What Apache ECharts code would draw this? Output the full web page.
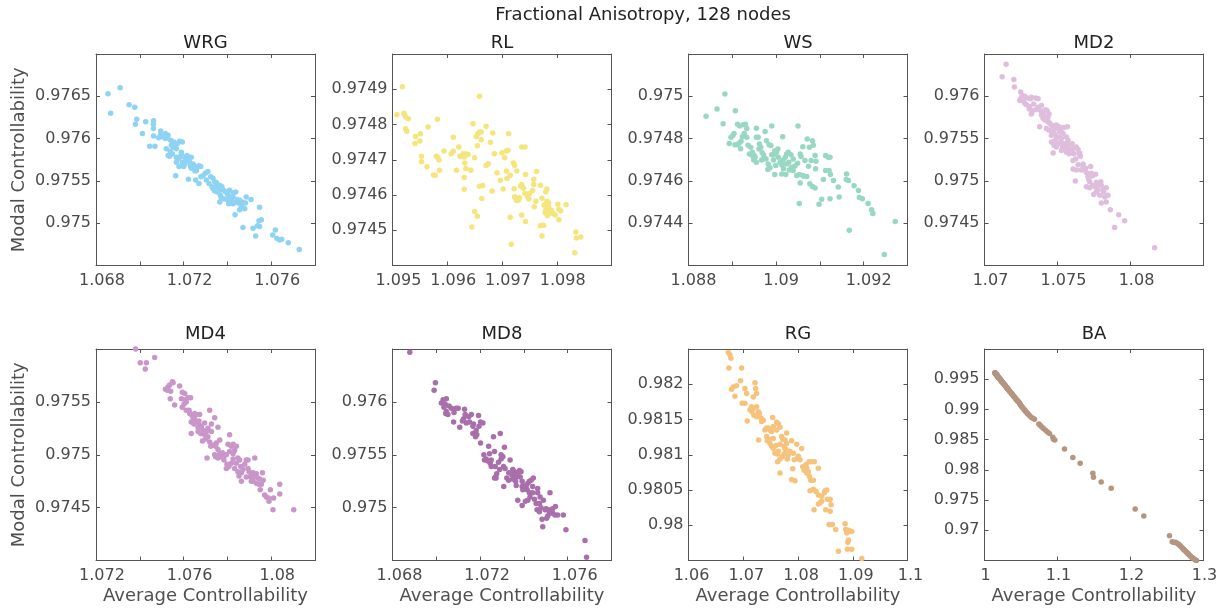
<!DOCTYPE html>
<html>
<head>
<meta charset="utf-8">
<script src="https://cdn.jsdelivr.net/npm/echarts@6/dist/echarts.min.js"></script>
<style>
  html, body { margin: 0; padding: 0; background: #ffffff; }
  #chart { width: 1230px; height: 613px; }
</style>
</head>
<body>
<div id="chart"></div>
<script>
// ---- Average (x) and modal (y) controllability per node, one pair of arrays per network ----
const wrgX = [1.06855,1.06867,1.06910,1.06951,1.06977,1.06986,1.06980,1.07027,1.07012,1.07063,
1.07062,1.07062,1.07063,1.07045,1.07069,1.07095,1.07095,1.07086,1.07106,1.07117,
1.07117,1.07129,1.07141,1.07144,1.07156,1.07171,1.07182,1.07194,1.07162,1.07139,
1.07129,1.07136,1.07149,1.07167,1.07190,1.07174,1.07167,1.07194,1.07205,1.07216,
1.07222,1.07231,1.07235,1.07248,1.07258,1.07270,1.07278,1.07251,1.07164,1.07179,
1.07222,1.07255,1.07270,1.07279,1.07311,1.07324,1.07334,1.07342,1.07316,1.07330,
1.07349,1.07365,1.07375,1.07383,1.07354,1.07368,1.07392,1.07410,1.07426,1.07438,
1.07401,1.07383,1.07398,1.07418,1.07441,1.07365,1.07372,1.07406,1.07426,1.07445,
1.07451,1.07467,1.07482,1.07508,1.07464,1.07456,1.07435,1.07479,1.07547,1.07471,
1.07517,1.07529,1.07537,1.07544,1.07555,1.07547,1.07607,1.07619,1.07626,1.07639,
1.07648,1.07678,1.07728,1.07334,1.07342,1.07357,1.07304,1.07289,1.07258,1.07243,
1.07212,1.07205,1.07200,1.07190,1.07167,1.07152,1.07121,1.07182,1.07235,1.07426,
1.07349,1.07486,1.07410,1.07456,1.07299,1.07228,1.07121,1.07365];
const wrgY = [0.97653,0.97630,0.97660,0.97640,0.97637,0.97623,0.97617,0.97620,0.97606,0.97621,
0.97617,0.97612,0.97603,0.97591,0.97591,0.97609,0.97604,0.97601,0.97602,0.97600,
0.97606,0.97604,0.97598,0.97592,0.97596,0.97594,0.97597,0.97596,0.97589,0.97585,
0.97580,0.97579,0.97582,0.97578,0.97581,0.97576,0.97572,0.97572,0.97578,0.97580,
0.97574,0.97568,0.97565,0.97568,0.97562,0.97568,0.97567,0.97562,0.97556,0.97567,
0.97552,0.97551,0.97547,0.97555,0.97561,0.97555,0.97553,0.97549,0.97547,0.97543,
0.97548,0.97545,0.97543,0.97539,0.97537,0.97533,0.97537,0.97539,0.97536,0.97537,
0.97534,0.97529,0.97528,0.97527,0.97525,0.97525,0.97530,0.97523,0.97523,0.97528,
0.97524,0.97525,0.97524,0.97528,0.97520,0.97516,0.97510,0.97517,0.97519,0.97495,
0.97494,0.97485,0.97497,0.97503,0.97504,0.97496,0.97486,0.97492,0.97482,0.97480,
0.97481,0.97477,0.97469,0.97541,0.97538,0.97541,0.97551,0.97556,0.97565,0.97570,
0.97575,0.97570,0.97567,0.97584,0.97588,0.97590,0.97601,0.97578,0.97578,0.97531,
0.97543,0.97531,0.97531,0.97527,0.97559,0.97572,0.97588,0.97539];

const rlX = [1.09508,1.09518,1.09521,1.09522,1.09524,1.09529,1.09524,1.09526,1.09542,1.09541,
1.09551,1.09550,1.09553,1.09553,1.09563,1.09565,1.09582,1.09580,1.09583,1.09585,
1.09575,1.09578,1.09586,1.09594,1.09611,1.09611,1.09621,1.09617,1.09623,1.09629,
1.09631,1.09638,1.09635,1.09632,1.09634,1.09631,1.09643,1.09631,1.09650,1.09647,
1.09653,1.09655,1.09659,1.09656,1.09659,1.09662,1.09662,1.09671,1.09671,1.09675,
1.09679,1.09686,1.09659,1.09665,1.09682,1.09663,1.09650,1.09655,1.09645,1.09691,
1.09697,1.09700,1.09705,1.09702,1.09708,1.09712,1.09711,1.09708,1.09709,1.09715,
1.09721,1.09723,1.09727,1.09722,1.09723,1.09730,1.09732,1.09734,1.09736,1.09739,
1.09736,1.09742,1.09743,1.09742,1.09747,1.09749,1.09758,1.09756,1.09763,1.09762,
1.09770,1.09758,1.09780,1.09782,1.09773,1.09777,1.09782,1.09785,1.09785,1.09779,
1.09783,1.09776,1.09770,1.09773,1.09743,1.09736,1.09715,1.09717,1.09780,1.09785,
1.09787,1.09793,1.09797,1.09802,1.09804,1.09807,1.09804,1.09817,1.09835,1.09836,
1.09844,1.09833,1.09726,1.09750,1.09759,1.09790,1.09607,1.09683];
const rlY = [0.974828,0.974907,0.974832,0.974828,0.974821,0.974816,0.974788,0.974781,0.974766,0.974746,
0.974774,0.974753,0.974710,0.974694,0.974680,0.974793,0.974815,0.974710,0.974706,0.974699,
0.974657,0.974656,0.974670,0.974725,0.974764,0.974724,0.974736,0.974670,0.974710,0.974717,
0.974708,0.974715,0.974716,0.974691,0.974675,0.974650,0.974670,0.974616,0.974706,0.974802,
0.974765,0.974740,0.974880,0.974774,0.974779,0.974779,0.974757,0.974795,0.974684,0.974689,
0.974750,0.974717,0.974625,0.974627,0.974611,0.974590,0.974553,0.974540,0.974509,0.974663,
0.974642,0.974720,0.974706,0.974617,0.974725,0.974774,0.974727,0.974668,0.974647,0.974656,
0.974691,0.974684,0.974668,0.974618,0.974595,0.974585,0.974592,0.974625,0.974630,0.974619,
0.974736,0.974736,0.974658,0.974604,0.974595,0.974589,0.974630,0.974613,0.974667,0.974582,
0.974628,0.974645,0.974609,0.974617,0.974591,0.974571,0.974582,0.974577,0.974567,0.974550,
0.974542,0.974514,0.974513,0.974484,0.974525,0.974543,0.974537,0.974460,0.974557,0.974562,
0.974548,0.974548,0.974543,0.974574,0.974559,0.974555,0.974530,0.974572,0.974495,0.974478,
0.974481,0.974436,0.974585,0.974604,0.974567,0.974557,0.974717,0.974776];

const wsX = [1.08840,1.08865,1.08883,1.08879,1.08907,1.08893,1.08897,1.08901,1.08904,1.08906,
1.08912,1.08912,1.08917,1.08925,1.08930,1.08933,1.08927,1.08923,1.08920,1.08916,
1.08919,1.08936,1.08939,1.08946,1.08946,1.08952,1.08955,1.08955,1.08959,1.08962,
1.08965,1.08961,1.08968,1.08971,1.08973,1.08967,1.08955,1.08949,1.08975,1.08978,
1.08984,1.08988,1.08990,1.08977,1.08982,1.08986,1.08981,1.08994,1.08994,1.08997,
1.09001,1.09004,1.08999,1.08997,1.09009,1.09013,1.09016,1.09015,1.09021,1.09024,
1.09028,1.09029,1.09034,1.09030,1.09022,1.09017,1.09035,1.09039,1.09043,1.09050,
1.09049,1.09047,1.09053,1.09055,1.09061,1.09064,1.09061,1.09057,1.09053,1.09071,
1.09074,1.09070,1.09077,1.09083,1.09089,1.09076,1.09083,1.09085,1.09089,1.09091,
1.09080,1.09090,1.09098,1.09104,1.09108,1.09113,1.09119,1.09123,1.09113,1.09121,
1.09124,1.09131,1.09123,1.09142,1.09144,1.09161,1.09160,1.09165,1.09178,1.09188,
1.09190,1.09197,1.09210,1.09218,1.09221,1.09167,1.09247,1.09272,1.08950,1.08990,
1.09005,1.09039,1.09066,1.09055,1.09024,1.08942,1.08933,1.09013];
const wsY = [0.974906,0.974940,0.975011,0.974870,0.974932,0.974777,0.974806,0.974813,0.974824,0.974771,
0.974771,0.974868,0.974860,0.974865,0.974868,0.974848,0.974824,0.974809,0.974787,0.974779,
0.974752,0.974768,0.974727,0.974718,0.974735,0.974712,0.974849,0.974806,0.974806,0.974774,
0.974759,0.974751,0.974734,0.974724,0.974709,0.974699,0.974688,0.974699,0.974834,0.974790,
0.974771,0.974767,0.974860,0.974704,0.974680,0.974662,0.974654,0.974724,0.974699,0.974743,
0.974735,0.974751,0.974673,0.974630,0.974688,0.974676,0.974699,0.974809,0.974712,0.974727,
0.974735,0.974688,0.974724,0.974652,0.974630,0.974657,0.974665,0.974649,0.974671,0.974860,
0.974684,0.974626,0.974630,0.974590,0.974626,0.974622,0.974762,0.974715,0.974493,0.974798,
0.974669,0.974621,0.974587,0.974574,0.974566,0.974759,0.974790,0.974768,0.974720,0.974693,
0.974696,0.974657,0.974490,0.974513,0.974607,0.974720,0.974712,0.974712,0.974649,0.974649,
0.974630,0.974602,0.974516,0.974571,0.974524,0.974633,0.974607,0.974602,0.974577,0.974555,
0.974521,0.974516,0.974493,0.974464,0.974446,0.974367,0.974252,0.974408,0.974720,0.974724,
0.974712,0.974704,0.974696,0.974727,0.974680,0.974759,0.974806,0.974633];

const md2X = [1.07121,1.07148,1.07201,1.07205,1.07248,1.07258,1.07242,1.07276,1.07292,1.07321,
1.07351,1.07367,1.07315,1.07287,1.07310,1.07306,1.07328,1.07321,1.07351,1.07367,
1.07385,1.07401,1.07419,1.07429,1.07390,1.07401,1.07378,1.07413,1.07435,1.07447,
1.07458,1.07470,1.07424,1.07442,1.07492,1.07492,1.07511,1.07527,1.07543,1.07568,
1.07470,1.07458,1.07481,1.07492,1.07511,1.07527,1.07458,1.07476,1.07504,1.07492,
1.07533,1.07543,1.07561,1.07574,1.07527,1.07549,1.07579,1.07590,1.07561,1.07602,
1.07611,1.07470,1.07579,1.07629,1.07641,1.07652,1.07657,1.07625,1.07606,1.07675,
1.07675,1.07686,1.07698,1.07629,1.07606,1.07622,1.07709,1.07727,1.07732,1.07761,
1.07720,1.07739,1.07698,1.07720,1.07755,1.07777,1.07796,1.07800,1.07834,1.07777,
1.07789,1.07816,1.07823,1.07834,1.07748,1.07800,1.07862,1.07919,1.07960,1.07891,
1.08165,1.07538,1.07572,1.07515,1.07483,1.07520,1.07556,1.07641,1.07663,1.07713,
1.07766,1.07647,1.07390,1.07408,1.07337,1.07264,1.07435,1.07561,1.07604,1.07693,
1.07739,1.07766,1.07600,1.07442,1.07248,1.07274,1.07812,1.07846];
const md2Y = [0.97623,0.97638,0.97620,0.97611,0.97605,0.97601,0.97595,0.97600,0.97598,0.97599,
0.97598,0.97597,0.97597,0.97590,0.97588,0.97585,0.97583,0.97579,0.97584,0.97587,
0.97583,0.97581,0.97584,0.97583,0.97578,0.97574,0.97564,0.97572,0.97570,0.97568,
0.97566,0.97564,0.97562,0.97560,0.97562,0.97566,0.97564,0.97562,0.97563,0.97564,
0.97558,0.97554,0.97555,0.97552,0.97552,0.97550,0.97546,0.97542,0.97544,0.97540,
0.97540,0.97544,0.97544,0.97543,0.97536,0.97537,0.97538,0.97536,0.97534,0.97534,
0.97532,0.97533,0.97532,0.97540,0.97537,0.97533,0.97529,0.97526,0.97524,0.97520,
0.97517,0.97513,0.97510,0.97513,0.97514,0.97500,0.97505,0.97517,0.97509,0.97508,
0.97499,0.97506,0.97493,0.97492,0.97493,0.97495,0.97499,0.97495,0.97492,0.97489,
0.97483,0.97487,0.97481,0.97475,0.97484,0.97474,0.97466,0.97460,0.97453,0.97445,
0.97421,0.97556,0.97548,0.97558,0.97548,0.97546,0.97540,0.97519,0.97513,0.97502,
0.97498,0.97532,0.97589,0.97577,0.97591,0.97595,0.97575,0.97552,0.97538,0.97515,
0.97495,0.97487,0.97544,0.97579,0.97597,0.97592,0.97490,0.97483];

const md4X = [1.07381,1.07402,1.07430,1.07425,1.07468,1.07517,1.07529,1.07536,1.07549,1.07552,
1.07541,1.07526,1.07539,1.07559,1.07582,1.07594,1.07590,1.07605,1.07608,1.07620,
1.07632,1.07602,1.07594,1.07612,1.07625,1.07628,1.07635,1.07643,1.07635,1.07650,
1.07658,1.07635,1.07647,1.07670,1.07673,1.07681,1.07666,1.07689,1.07678,1.07696,
1.07704,1.07711,1.07719,1.07727,1.07742,1.07757,1.07711,1.07719,1.07734,1.07724,
1.07701,1.07686,1.07742,1.07707,1.07746,1.07757,1.07765,1.07777,1.07772,1.07783,
1.07795,1.07810,1.07803,1.07818,1.07826,1.07841,1.07833,1.07826,1.07818,1.07841,
1.07848,1.07856,1.07807,1.07798,1.07784,1.07848,1.07853,1.07861,1.07871,1.07879,
1.07886,1.07894,1.07894,1.07899,1.07905,1.07917,1.07925,1.07925,1.07932,1.07940,
1.07947,1.07917,1.07960,1.07963,1.07955,1.07950,1.07944,1.07970,1.07978,1.07996,
1.08011,1.08039,1.08039,1.07987,1.07990,1.08008,1.08103,1.07746,1.07757,1.07810,
1.07765,1.07673,1.07666,1.07795,1.07833,1.07864,1.07886,1.07909,1.07932,1.07727,
1.07696,1.07658,1.07612,1.07749,1.07826,1.07864,1.07909,1.07650];
const md4Y = [0.97600,0.97587,0.97587,0.97581,0.97592,0.97562,0.97564,0.97566,0.97569,0.97568,
0.97560,0.97561,0.97553,0.97547,0.97565,0.97559,0.97553,0.97558,0.97552,0.97554,
0.97554,0.97548,0.97545,0.97542,0.97542,0.97539,0.97538,0.97535,0.97531,0.97534,
0.97531,0.97520,0.97529,0.97532,0.97528,0.97526,0.97526,0.97523,0.97520,0.97519,
0.97522,0.97525,0.97542,0.97529,0.97535,0.97526,0.97517,0.97512,0.97509,0.97508,
0.97515,0.97513,0.97500,0.97497,0.97508,0.97505,0.97501,0.97502,0.97498,0.97498,
0.97500,0.97519,0.97510,0.97508,0.97510,0.97508,0.97504,0.97496,0.97492,0.97492,
0.97497,0.97495,0.97489,0.97491,0.97495,0.97484,0.97480,0.97489,0.97486,0.97491,
0.97495,0.97487,0.97495,0.97484,0.97479,0.97483,0.97479,0.97497,0.97482,0.97478,
0.97477,0.97475,0.97483,0.97476,0.97472,0.97467,0.97472,0.97462,0.97460,0.97467,
0.97459,0.97472,0.97463,0.97459,0.97456,0.97448,0.97448,0.97498,0.97497,0.97503,
0.97514,0.97538,0.97522,0.97487,0.97487,0.97483,0.97479,0.97475,0.97473,0.97522,
0.97530,0.97538,0.97550,0.97511,0.97501,0.97475,0.97481,0.97539];

const md8X = [1.06879,1.06996,1.06990,1.07023,1.07031,1.07046,1.07040,1.07035,1.07046,1.07053,
1.07043,1.07058,1.07069,1.07079,1.07091,1.07100,1.07081,1.07079,1.07107,1.07119,
1.07129,1.07132,1.07125,1.07137,1.07148,1.07152,1.07160,1.07170,1.07167,1.07179,
1.07182,1.07193,1.07202,1.07213,1.07195,1.07185,1.07202,1.07217,1.07220,1.07228,
1.07239,1.07243,1.07236,1.07246,1.07251,1.07261,1.07266,1.07269,1.07270,1.07273,
1.07266,1.07276,1.07284,1.07292,1.07296,1.07296,1.07307,1.07304,1.07311,1.07314,
1.07308,1.07322,1.07330,1.07331,1.07337,1.07345,1.07349,1.07357,1.07349,1.07362,
1.07372,1.07365,1.07380,1.07387,1.07372,1.07383,1.07392,1.07392,1.07398,1.07406,
1.07395,1.07410,1.07415,1.07418,1.07425,1.07433,1.07443,1.07425,1.07428,1.07418,
1.07392,1.07407,1.07440,1.07448,1.07456,1.07460,1.07471,1.07463,1.07463,1.07474,
1.07478,1.07483,1.07486,1.07489,1.07497,1.07501,1.07504,1.07509,1.07513,1.07516,
1.07519,1.07527,1.07531,1.07544,1.07542,1.07554,1.07580,1.07592,1.07679,1.07686,
1.07251,1.07289,1.07349,1.07365,1.07440,1.07471,1.07531,1.07167];
const md8Y = [0.97647,0.97618,0.97611,0.97599,0.97602,0.97603,0.97598,0.97595,0.97591,0.97588,
0.97589,0.97596,0.97594,0.97593,0.97594,0.97594,0.97590,0.97581,0.97576,0.97582,
0.97593,0.97588,0.97584,0.97580,0.97586,0.97581,0.97588,0.97579,0.97570,0.97567,
0.97573,0.97587,0.97581,0.97580,0.97577,0.97569,0.97561,0.97550,0.97545,0.97546,
0.97558,0.97551,0.97544,0.97542,0.97545,0.97567,0.97553,0.97539,0.97529,0.97528,
0.97528,0.97532,0.97543,0.97570,0.97550,0.97546,0.97539,0.97548,0.97557,0.97537,
0.97520,0.97528,0.97526,0.97533,0.97545,0.97531,0.97536,0.97534,0.97527,0.97525,
0.97533,0.97529,0.97535,0.97534,0.97507,0.97529,0.97525,0.97520,0.97521,0.97520,
0.97517,0.97520,0.97517,0.97523,0.97525,0.97526,0.97528,0.97514,0.97510,0.97507,
0.97502,0.97506,0.97514,0.97508,0.97504,0.97498,0.97496,0.97514,0.97518,0.97510,
0.97500,0.97489,0.97482,0.97507,0.97498,0.97499,0.97490,0.97492,0.97498,0.97495,
0.97514,0.97495,0.97495,0.97501,0.97493,0.97493,0.97493,0.97479,0.97469,0.97453,
0.97539,0.97536,0.97531,0.97521,0.97520,0.97504,0.97499,0.97577];

const rgX = [1.06726,1.06756,1.06774,1.06738,1.06970,1.06951,1.07031,1.06787,1.06817,1.06878,
1.06848,1.06982,1.07031,1.07073,1.07183,1.07226,1.07244,1.07214,1.07153,1.07183,
1.07159,1.07195,1.07244,1.07274,1.07293,1.07323,1.07366,1.07335,1.07281,1.07427,
1.07457,1.07488,1.07537,1.07549,1.07610,1.07640,1.07671,1.07610,1.07518,1.07470,
1.07439,1.07488,1.07518,1.07549,1.07579,1.07628,1.07640,1.07598,1.07671,1.07701,
1.07720,1.07762,1.07744,1.07762,1.07781,1.07744,1.07714,1.07671,1.07628,1.07671,
1.07805,1.07823,1.07854,1.07884,1.07976,1.08006,1.07988,1.07933,1.07903,1.07884,
1.07945,1.08067,1.08086,1.08110,1.08147,1.08159,1.08189,1.08201,1.08250,1.08299,
1.08208,1.08232,1.08281,1.08372,1.08220,1.08281,1.08329,1.08293,1.08372,1.08403,
1.08433,1.08482,1.08494,1.08525,1.08506,1.08537,1.08573,1.08604,1.08586,1.08567,
1.08628,1.08689,1.08860,1.08872,1.08891,1.08921,1.08921,1.08909,1.08951,1.08982,
1.08903,1.08982,1.08738,1.09165,1.07549,1.07793,1.08037,1.08159,1.07793,1.07396,
1.07122,1.07244,1.08372,1.08433,1.07061,1.07427,1.07915,1.08586];
const rgY = [0.98245,0.98242,0.98237,0.98223,0.98223,0.98205,0.98194,0.98193,0.98196,0.98198,
0.98183,0.98173,0.98173,0.98148,0.98182,0.98194,0.98187,0.98202,0.98168,0.98166,
0.98161,0.98156,0.98168,0.98161,0.98159,0.98152,0.98149,0.98147,0.98121,0.98138,
0.98138,0.98135,0.98153,0.98140,0.98146,0.98144,0.98139,0.98135,0.98133,0.98122,
0.98120,0.98116,0.98112,0.98109,0.98102,0.98101,0.98105,0.98113,0.98115,0.98126,
0.98122,0.98121,0.98112,0.98109,0.98107,0.98101,0.98097,0.98094,0.98090,0.98074,
0.98094,0.98100,0.98105,0.98120,0.98115,0.98098,0.98095,0.98093,0.98080,0.98065,
0.98063,0.98109,0.98083,0.98078,0.98086,0.98081,0.98076,0.98090,0.98090,0.98090,
0.98069,0.98064,0.98064,0.98081,0.98049,0.98051,0.98048,0.98022,0.98030,0.98032,
0.98034,0.98046,0.98049,0.98050,0.98022,0.98037,0.98036,0.98029,0.98020,0.98001,
0.98001,0.97994,0.98002,0.97994,0.97989,0.97993,0.97979,0.97976,0.97991,0.97991,
0.97966,0.97966,0.97963,0.97953,0.98123,0.98116,0.98093,0.98074,0.98131,0.98135,
0.98164,0.98154,0.98043,0.98041,0.98187,0.98126,0.98102,0.98037];

const baX = [1.01415,1.01461,1.01507,1.01552,1.01598,1.01644,1.01689,1.01735,1.01781,1.01826,
1.01872,1.01918,1.01963,1.02009,1.02055,1.02146,1.02237,1.02329,1.02420,1.02511,
1.02603,1.02694,1.02785,1.02877,1.02968,1.03059,1.03151,1.03242,1.03333,1.03425,
1.03561,1.03698,1.03835,1.03972,1.04109,1.04246,1.04383,1.04520,1.04657,1.04794,
1.04931,1.05068,1.05251,1.05434,1.05616,1.05799,1.05981,1.06164,1.06392,1.06621,
1.06849,1.01461,1.01552,1.01689,1.01872,1.02100,1.02283,1.02466,1.02648,1.02831,
1.03014,1.03196,1.03470,1.03744,1.04018,1.04292,1.04566,1.04840,1.05160,1.05525,
1.05890,1.07443,1.07625,1.07854,1.08082,1.08356,1.08630,1.08904,1.09360,1.09634,
1.09452,1.10958,1.12100,1.13104,1.14840,1.14931,1.15981,1.17351,1.20638,1.21826,
1.25341,1.25707,1.25889,1.26163,1.26392,1.26574,1.26757,1.26894,1.27031,1.27168,
1.27305,1.27442,1.27579,1.27716,1.27853,1.27990,1.28127,1.28264,1.28401,1.28538,
1.28675,1.28812,1.28948,1.29040,1.01507,1.01598,1.01735,1.01826,1.01963,1.02192,
1.02374,1.02740,1.03105,1.26026,1.26666,1.27259,1.27899,1.28447];
const baY = [0.99609,0.99598,0.99592,0.99587,0.99581,0.99570,0.99565,0.99559,0.99548,0.99543,
0.99537,0.99526,0.99520,0.99515,0.99509,0.99498,0.99482,0.99471,0.99454,0.99443,
0.99427,0.99416,0.99399,0.99388,0.99372,0.99361,0.99344,0.99333,0.99317,0.99306,
0.99283,0.99267,0.99245,0.99223,0.99201,0.99184,0.99162,0.99146,0.99124,0.99107,
0.99074,0.99052,0.99024,0.98997,0.98969,0.98947,0.98920,0.98898,0.98870,0.98854,
0.98837,0.99603,0.99592,0.99570,0.99531,0.99504,0.99476,0.99449,0.99421,0.99394,
0.99366,0.99339,0.99294,0.99256,0.99212,0.99173,0.99135,0.99096,0.99041,0.98986,
0.98936,0.98760,0.98738,0.98710,0.98683,0.98655,0.98628,0.98600,0.98539,0.98495,
0.98506,0.98346,0.98203,0.98109,0.97944,0.97878,0.97801,0.97696,0.97354,0.97238,
0.96908,0.96809,0.96803,0.96803,0.96787,0.96770,0.96748,0.96731,0.96715,0.96698,
0.96682,0.96665,0.96649,0.96632,0.96616,0.96599,0.96583,0.96566,0.96550,0.96539,
0.96527,0.96516,0.96505,0.96500,0.99603,0.99587,0.99565,0.99554,0.99526,0.99493,
0.99460,0.99410,0.99350,0.96798,0.96759,0.96687,0.96610,0.96550];

// ---- Tick positions and labelled ticks for each panel ----
const wrgXTicks = [1.068, 1.070, 1.072, 1.074, 1.076, 1.078];
const wrgXLabels = [1.068, 1.072, 1.076];
const wrgYTicks = [0.9745, 0.975, 0.9755, 0.976, 0.9765, 0.977];
const wrgYLabels = [0.975, 0.9755, 0.976, 0.9765];

const rlXTicks = [1.095, 1.096, 1.097, 1.098, 1.099];
const rlXLabels = [1.095, 1.096, 1.097, 1.098];
const rlYTicks = [0.9744, 0.9745, 0.9746, 0.9747, 0.9748, 0.9749, 0.975];
const rlYLabels = [0.9745, 0.9746, 0.9747, 0.9748, 0.9749];

const wsXTicks = [1.088, 1.089, 1.090, 1.091, 1.092, 1.093];
const wsXLabels = [1.088, 1.090, 1.092];
const wsYTicks = [0.9742, 0.9744, 0.9746, 0.9748, 0.975, 0.9752];
const wsYLabels = [0.9744, 0.9746, 0.9748, 0.975];

const md2XTicks = [1.070, 1.075, 1.080, 1.085];
const md2XLabels = [1.070, 1.075, 1.080];
const md2YTicks = [0.974, 0.9745, 0.975, 0.9755, 0.976, 0.9765];
const md2YLabels = [0.9745, 0.975, 0.9755, 0.976];

const md4XTicks = [1.072, 1.074, 1.076, 1.078, 1.080, 1.082];
const md4XLabels = [1.072, 1.076, 1.080];
const md4YTicks = [0.974, 0.9745, 0.975, 0.9755, 0.976];
const md4YLabels = [0.9745, 0.975, 0.9755];

const md8XTicks = [1.068, 1.070, 1.072, 1.074, 1.076, 1.078];
const md8XLabels = [1.068, 1.072, 1.076];
const md8YTicks = [0.9745, 0.975, 0.9755, 0.976, 0.9765];
const md8YLabels = [0.975, 0.9755, 0.976];

const rgXTicks = [1.06, 1.07, 1.08, 1.09, 1.10];
const rgXLabels = [1.06, 1.07, 1.08, 1.09, 1.10];
const rgYTicks = [0.9795, 0.980, 0.9805, 0.981, 0.9815, 0.982, 0.9825];
const rgYLabels = [0.980, 0.9805, 0.981, 0.9815, 0.982];

const baXTicks = [1.0, 1.1, 1.2, 1.3];
const baXLabels = [1.0, 1.1, 1.2, 1.3];
const baYTicks = [0.965, 0.97, 0.975, 0.98, 0.985, 0.99, 0.995, 1.0];
const baYLabels = [0.97, 0.975, 0.98, 0.985, 0.99, 0.995];

const panelNames = ['WRG', 'RL', 'WS', 'MD2', 'MD4', 'MD8', 'RG', 'BA'];

// ---- Panel definitions (ranges, colours, layout slot) ----
const panels = [
  { name: panelNames[0], x: wrgX, y: wrgY, color: '#8fd3f4', xr: [1.068, 1.078], yr: [0.9745, 0.977],
    xt: wrgXTicks, xl: wrgXLabels, yt: wrgYTicks, yl: wrgYLabels, row: 0, col: 0, shift: 6 },
  { name: panelNames[1], x: rlX, y: rlY, color: '#f4e57c', xr: [1.095, 1.099], yr: [0.9744, 0.975],
    xt: rlXTicks, xl: rlXLabels, yt: rlYTicks, yl: rlYLabels, row: 0, col: 1, shift: 6 },
  { name: panelNames[2], x: wsX, y: wsY, color: '#98d8c3', xr: [1.088, 1.093], yr: [0.9742, 0.9752],
    xt: wsXTicks, xl: wsXLabels, yt: wsYTicks, yl: wsYLabels, row: 0, col: 2, shift: 5 },
  { name: panelNames[3], x: md2X, y: md2Y, color: '#dfbedd', xr: [1.070, 1.085], yr: [0.974, 0.9765],
    xt: md2XTicks, xl: md2XLabels, yt: md2YTicks, yl: md2YLabels, row: 0, col: 3, shift: 6 },
  { name: panelNames[4], x: md4X, y: md4Y, color: '#c896c8', xr: [1.072, 1.082], yr: [0.974, 0.976],
    xt: md4XTicks, xl: md4XLabels, yt: md4YTicks, yl: md4YLabels, row: 1, col: 0, shift: 6 },
  { name: panelNames[5], x: md8X, y: md8Y, color: '#a86fab', xr: [1.068, 1.078], yr: [0.9745, 0.9765],
    xt: md8XTicks, xl: md8XLabels, yt: md8YTicks, yl: md8YLabels, row: 1, col: 1, shift: 7 },
  { name: panelNames[6], x: rgX, y: rgY, color: '#f6c37c', xr: [1.06, 1.10], yr: [0.9795, 0.9825],
    xt: rgXTicks, xl: rgXLabels, yt: rgYTicks, yl: rgYLabels, row: 1, col: 2, shift: 3 },
  { name: panelNames[7], x: baX, y: baY, color: '#b39580', xr: [1.0, 1.3], yr: [0.965, 1.0],
    xt: baXTicks, xl: baXLabels, yt: baYTicks, yl: baYLabels, row: 1, col: 3, shift: 1 }
];

const FONT = '"DejaVu Sans", sans-serif';
const AXIS_COLOR = '#555555';
const LABEL_COLOR = '#4a4a4a';
const NAME_COLOR = '#4f4f4f';
const TITLE_COLOR = '#222222';

const colLeft = [96, 392.5, 688.5, 984.5];
const rowTop = [54, 349];
const rowTitleTop = [34, 325.5];
const plotW = 219;
const plotH = 211.5;

function fmt(v) { return String(parseFloat(Number(v).toFixed(6))); }

const grids = [], xAxes = [], yAxes = [], series = [];
const titles = [{
  text: 'Fractional Anisotropy, 128 nodes',
  left: 643, top: 6, textAlign: 'center', padding: 0,
  textStyle: { fontFamily: FONT, fontSize: 18, fontWeight: 'normal', color: TITLE_COLOR }
}];

panels.forEach((p, i) => {
  const left = colLeft[p.col];
  const top = rowTop[p.row];
  grids.push({ left: left, top: top, width: plotW, height: plotH });

  titles.push({
    text: p.name, left: left + plotW / 2, top: rowTitleTop[p.row], textAlign: 'center', padding: 0,
    textStyle: { fontFamily: FONT, fontSize: 18, fontWeight: 'normal', color: TITLE_COLOR }
  });

  const line = { show: true, onZero: false, lineStyle: { color: AXIS_COLOR, width: 1 } };
  const tick = (vals) => ({ show: true, inside: true, length: 4, customValues: vals,
                            lineStyle: { color: AXIS_COLOR, width: 1 } });

  // bottom axis with labels, top axis closes the box
  xAxes.push({
    type: 'value', gridIndex: i, position: 'bottom', min: p.xr[0], max: p.xr[1],
    axisLine: line, axisTick: tick(p.xt), splitLine: { show: false },
    axisLabel: { customValues: p.xl, formatter: fmt, fontFamily: FONT, fontSize: 16,
                 color: LABEL_COLOR, margin: 7, padding: [0, 0, 0, p.shift * 2] },
    name: p.row === 1 ? 'Average Controllability' : '',
    nameLocation: 'middle', nameGap: 27,
    nameTextStyle: { fontFamily: FONT, fontSize: 18, color: NAME_COLOR }
  });
  xAxes.push({
    type: 'value', gridIndex: i, position: 'top', min: p.xr[0], max: p.xr[1],
    axisLine: line, axisTick: tick(p.xt), axisLabel: { show: false }, splitLine: { show: false }
  });

  // left axis with labels, right axis closes the box
  yAxes.push({
    type: 'value', gridIndex: i, position: 'left', min: p.yr[0], max: p.yr[1],
    axisLine: line, axisTick: tick(p.yt), splitLine: { show: false },
    axisLabel: { customValues: p.yl, formatter: fmt, fontFamily: FONT, fontSize: 16,
                 color: LABEL_COLOR, margin: 5 },
    name: p.col === 0 ? 'Modal Controllability' : '',
    nameLocation: 'middle', nameGap: 68,
    nameTextStyle: { fontFamily: FONT, fontSize: 18, color: NAME_COLOR }
  });
  yAxes.push({
    type: 'value', gridIndex: i, position: 'right', min: p.yr[0], max: p.yr[1],
    axisLine: line, axisTick: tick(p.yt), axisLabel: { show: false }, splitLine: { show: false }
  });

  series.push({
    type: 'scatter', name: p.name, xAxisIndex: 2 * i, yAxisIndex: 2 * i,
    data: p.x.map((v, k) => [v, p.y[k]]),
    symbol: 'circle', symbolSize: 5.5, clip: false, silent: true,
    itemStyle: { color: p.color, opacity: 1 }
  });
});

const chart = echarts.init(document.getElementById('chart'), null, { renderer: 'canvas' });
chart.setOption({
  backgroundColor: '#ffffff',
  animation: false,
  title: titles,
  grid: grids,
  xAxis: xAxes,
  yAxis: yAxes,
  series: series
});
</script>
</body>
</html>
